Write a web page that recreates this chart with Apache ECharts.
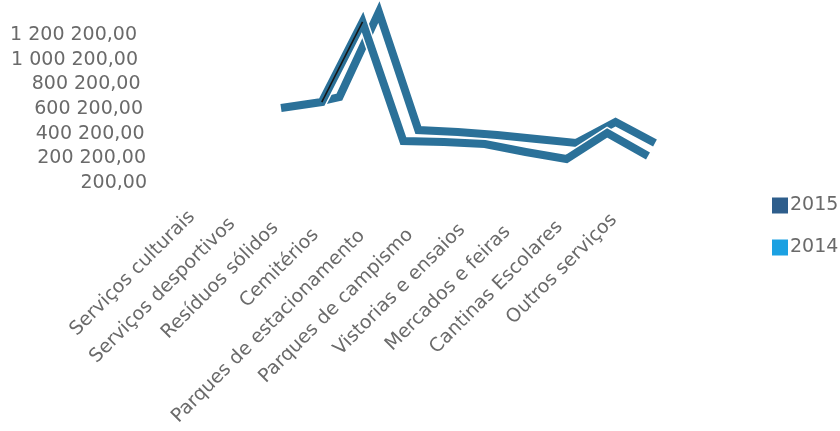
<!DOCTYPE html>
<html>
<head>
<meta charset="utf-8">
<script src="https://cdn.jsdelivr.net/npm/echarts@6/dist/echarts.min.js"></script>
<style>
html, body { margin: 0; padding: 0; background: #ffffff; }
#chart { width: 840px; height: 431px; }
</style>
</head>
<body>
<div id="chart"></div>
<script>
// Receitas por tipo de serviço, 2015 e 2014
const categories = [
  'Serviços culturais',
  'Serviços desportivos',
  'Resíduos sólidos',
  'Cemitérios',
  'Parques de estacionamento',
  'Parques de campismo',
  'Vistorias e ensaios',
  'Mercados e feiras',
  'Cantinas Escolares',
  'Outros serviços'
];
const values2015 = [459000, 507000, 1152000, 193000, 185000, 169000, 105000, 48000, 258000, 72000];
const values2014 = [387000, 459000, 1144000, 193000, 177000, 153000, 121000, 89000, 258000, 89000];
const yTickLabels = ['200,00', '200 200,00', '400 200,00', '600 200,00', '800 200,00', '1 000 200,00', '1 200 200,00'];
const seriesNames = ['2015', '2014'];

const AXIS_MIN = 200;
const AXIS_MAX = 1200200;
const AXIS_STEP = 200000;

const FONT = 'DejaVu Sans';
const FONT_SIZE = 19;
const TEXT_COLOR = '#6a6a6a';
const RIBBON = '#2b7199';

// Perspective layout: per-label screen shift (px) of the category labels
// and per-row right inset of the value labels (bottom row first).
const categoryLabelShift = [
  [0, 0], [-7, 5], [-11, 12], [-18, 18], [-19, 25],
  [-18, 26], [-13, 35], [-15, 44], [-10, 51], [-3, 63]
];
const valueLabelInset = [0, 1, 2.5, 4, 6.5, 9, 10];

// How far extra top padding lowers a rotated label, per pixel of padding
const DROP_PER_PAD = 0.228;

const chart = echarts.init(document.getElementById('chart'), null, { renderer: 'canvas' });

// Right padding slides a 45° label along its baseline (down-left);
// top padding lowers it, so a screen shift (dx, dy) splits into both.
const xLabelData = categories.map((c, i) => {
  const [dx, dy] = categoryLabelShift[i];
  const along = Math.max(-dx, 0) * Math.SQRT2;
  const drop = Math.max(dy + dx, 0) / DROP_PER_PAD;
  return {
    value: c,
    textStyle: { padding: [drop, along, 0, 0] }
  };
});

const valueRich = {};
valueLabelInset.forEach((p, i) => {
  valueRich['t' + i] = {
    fontFamily: FONT, fontSize: FONT_SIZE, color: TEXT_COLOR,
    padding: [0, p, 0, 0]
  };
});

const hiddenValueAxis = (gridIndex) => ({
  type: 'value', gridIndex, min: AXIS_MIN, max: AXIS_MAX, interval: AXIS_STEP,
  show: false, splitLine: { show: false }
});
const hiddenCategoryAxis = (gridIndex) => ({
  type: 'category', gridIndex, data: categories, boundaryGap: false, show: false
});

const ribbonStyle = (color, width) => ({
  color, width, join: 'miter', miterLimit: 12, cap: 'butt'
});

const option = {
  animation: false,
  backgroundColor: '#ffffff',
  textStyle: { fontFamily: FONT },
  grid: [
    // 0: value axis labels
    { left: 155, top: 35, width: 40, height: 148 },
    // 1: category labels
    { left: 192, top: 100, width: 425, height: 82 },
    // 2: front ribbon (2015)
    { left: 281, top: 16, width: 367, height: 149 },
    // 3: back ribbon (2014)
    { left: 300, top: 5, width: 355, height: 149 }
  ],
  xAxis: [
    { type: 'category', gridIndex: 0, data: categories, show: false },
    {
      type: 'category', gridIndex: 1, data: xLabelData, boundaryGap: false,
      axisLine: { show: false }, axisTick: { show: false }, splitLine: { show: false },
      axisLabel: {
        interval: 0, rotate: 45, margin: 32,
        fontFamily: FONT, fontSize: FONT_SIZE, color: TEXT_COLOR
      }
    },
    hiddenCategoryAxis(2),
    hiddenCategoryAxis(3)
  ],
  yAxis: [
    {
      type: 'value', gridIndex: 0, min: AXIS_MIN, max: AXIS_MAX, interval: AXIS_STEP,
      axisLine: { show: false }, axisTick: { show: false }, splitLine: { show: false },
      axisLabel: {
        margin: 8, fontFamily: FONT, fontSize: FONT_SIZE, color: TEXT_COLOR,
        formatter: (v, idx) => '{t' + idx + '|' + yTickLabels[idx] + '}',
        rich: valueRich
      }
    },
    { type: 'value', gridIndex: 1, show: false, min: 0, max: 1 },
    hiddenValueAxis(2),
    hiddenValueAxis(3)
  ],
  legend: {
    data: seriesNames,
    orient: 'vertical',
    left: 767,
    top: 191,
    icon: 'rect',
    itemWidth: 16,
    itemHeight: 16,
    itemGap: 23,
    textStyle: { fontFamily: FONT, fontSize: FONT_SIZE, color: TEXT_COLOR, padding: [0, 0, 0, -3] }
  },
  series: [
    {
      name: seriesNames[1], type: 'line', xAxisIndex: 3, yAxisIndex: 3, z: 2,
      data: values2014, showSymbol: false, symbol: 'none',
      itemStyle: { color: '#1ba1e2' },
      lineStyle: ribbonStyle(RIBBON, 8)
    },
    {
      // white rim that separates the front ribbon from the one behind it
      name: 'rim', type: 'line', xAxisIndex: 2, yAxisIndex: 2, z: 3,
      data: values2015, showSymbol: false, symbol: 'none', silent: true,
      lineStyle: ribbonStyle('#ffffff', 11)
    },
    {
      name: seriesNames[0], type: 'line', xAxisIndex: 2, yAxisIndex: 2, z: 4,
      data: values2015, showSymbol: false, symbol: 'none',
      itemStyle: { color: '#2e5e8c' },
      lineStyle: ribbonStyle(RIBBON, 8)
    },
    {
      // dark edge on the rising face of the front ribbon
      name: 'edge', type: 'line', xAxisIndex: 2, yAxisIndex: 2, z: 5,
      data: values2015.map((v, i) => (i === 1 || i === 2) ? v : null),
      showSymbol: false, symbol: 'none', silent: true,
      lineStyle: { color: '#161616', width: 1.6, cap: 'butt' }
    }
  ]
};

chart.setOption(option);
</script>
</body>
</html>
